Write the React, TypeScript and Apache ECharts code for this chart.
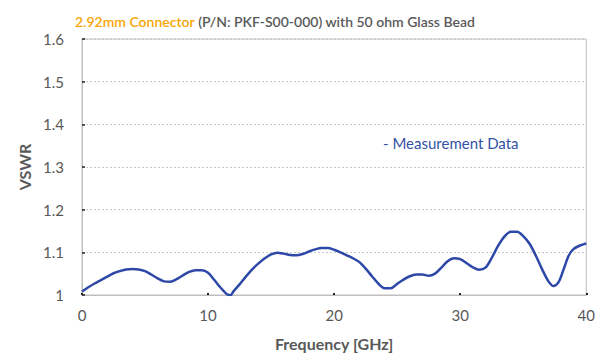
import React, { useEffect, useRef } from "react";
import * as echarts from "echarts";

const freqGHz = [
  0, 0.5, 1, 1.5, 2, 2.5, 3, 3.5, 4, 4.5, 5, 5.5, 6, 6.5, 7, 7.5, 8, 8.5, 9, 9.5,
  10, 10.5, 11, 11.5, 11.8, 12, 12.5, 13, 13.5, 14, 14.5, 15, 15.5, 16, 16.5, 17,
  17.5, 18, 18.5, 19, 19.5, 20, 20.5, 21, 21.5, 22, 22.5, 23, 23.5, 24, 24.5, 25,
  25.5, 26, 26.5, 27, 27.5, 28, 28.5, 29, 29.5, 30, 30.5, 31, 31.5, 32, 32.5, 33,
  33.5, 34, 34.5, 35, 35.5, 36, 36.5, 37, 37.4, 37.8, 38.2, 38.6, 39, 39.5, 40,
];
const vswr = [
  1.008, 1.018, 1.027, 1.035, 1.043, 1.051, 1.056, 1.06, 1.061, 1.06, 1.056, 1.048,
  1.039, 1.032, 1.031, 1.037, 1.046, 1.054, 1.058, 1.058, 1.052, 1.035, 1.017, 1.002,
  1.0, 1.008, 1.025, 1.043, 1.06, 1.074, 1.086, 1.095, 1.099, 1.097, 1.094, 1.093,
  1.096, 1.102, 1.107, 1.11, 1.11, 1.106, 1.1, 1.093, 1.086, 1.077, 1.062, 1.044,
  1.027, 1.016, 1.016, 1.026, 1.036, 1.044, 1.048, 1.048, 1.045, 1.05, 1.064, 1.079,
  1.086, 1.084, 1.075, 1.065, 1.059, 1.064, 1.087, 1.115, 1.137, 1.148, 1.148, 1.138,
  1.12, 1.092, 1.06, 1.032, 1.021, 1.03, 1.06, 1.092, 1.108, 1.116, 1.121,
];

const titleOrange = "2.92mm Connector";
const titleRest = " (P/N: PKF-S00-000) with 50 ohm Glass Bead";
const legendText = "- Measurement Data";
const xName = "Frequency [GHz]";
const yName = "VSWR";

const FONT = "Lato, 'Open Sans', sans-serif";

export default function App() {
  const ref = useRef<HTMLDivElement>(null);
  useEffect(() => {
    if (!ref.current) return;
    const chart = echarts.init(ref.current, null, { renderer: "svg" });
    chart.setOption({
      animation: false,
      backgroundColor: "#ffffff",
      title: {
        text: `{o|${titleOrange}}{g|${titleRest}}`,
        left: 70,
        top: 9,
        textStyle: {
          rich: {
            o: { color: "#f7a600", fontSize: 14, fontWeight: 600, fontFamily: FONT },
            g: { color: "#595959", fontSize: 14, fontWeight: 600, fontFamily: FONT },
          },
        },
      },
      grid: {
        left: 82,
        right: 8,
        top: 39,
        bottom: 61,
        show: true,
        borderColor: "#bfbfbf",
        borderWidth: 1,
      },
      graphic: [
        {
          type: "text",
          left: 383,
          top: 135,
          style: {
            text: legendText,
            fill: "#3452a4",
            fontSize: 15,
            fontFamily: FONT,
          },
        },
      ],
      xAxis: {
        type: "value",
        min: 0,
        max: 40,
        interval: 10,
        name: xName,
        nameLocation: "middle",
        nameGap: 40,
        nameTextStyle: { color: "#595959", fontSize: 16, fontWeight: "bold", fontFamily: FONT },
        axisLine: { show: true, lineStyle: { color: "#bfbfbf" } },
        axisTick: { show: true, inside: true, length: 2, lineStyle: { color: "#222", width: 2 } },
        splitLine: { show: false },
        axisLabel: { color: "#595959", fontSize: 15, margin: 12, fontFamily: FONT },
      },
      yAxis: {
        type: "value",
        min: 1,
        max: 1.6,
        interval: 0.1,
        name: yName,
        nameLocation: "middle",
        nameGap: 50,
        nameTextStyle: { color: "#595959", fontSize: 16, fontWeight: "bold", fontFamily: FONT },
        axisLine: { show: true, lineStyle: { color: "#bfbfbf" } },
        axisTick: { show: true, inside: true, length: 3, lineStyle: { color: "#222", width: 1.5 } },
        splitLine: { show: true, lineStyle: { color: "#c8c8c8", type: [2, 2], width: 1 } },
        axisLabel: {
          color: "#595959",
          fontSize: 15,
          margin: 18,
          fontFamily: FONT,
          formatter: (v: number) => (Math.abs(v - 1) < 1e-9 ? "1" : v.toFixed(1)),
        },
      },
      series: [
        {
          type: "line",
          data: freqGHz.map((f, i) => [f, vswr[i]]),
          smooth: 0.3,
          showSymbol: false,
          lineStyle: { color: "#2e48a8", width: 2.5 },
        },
      ],
    });
    return () => chart.dispose();
  }, []);
  return (
    <div
      ref={ref}
      style={{ position: "absolute", left: 0, top: 0, width: 598, height: 356 }}
    />
  );
}
